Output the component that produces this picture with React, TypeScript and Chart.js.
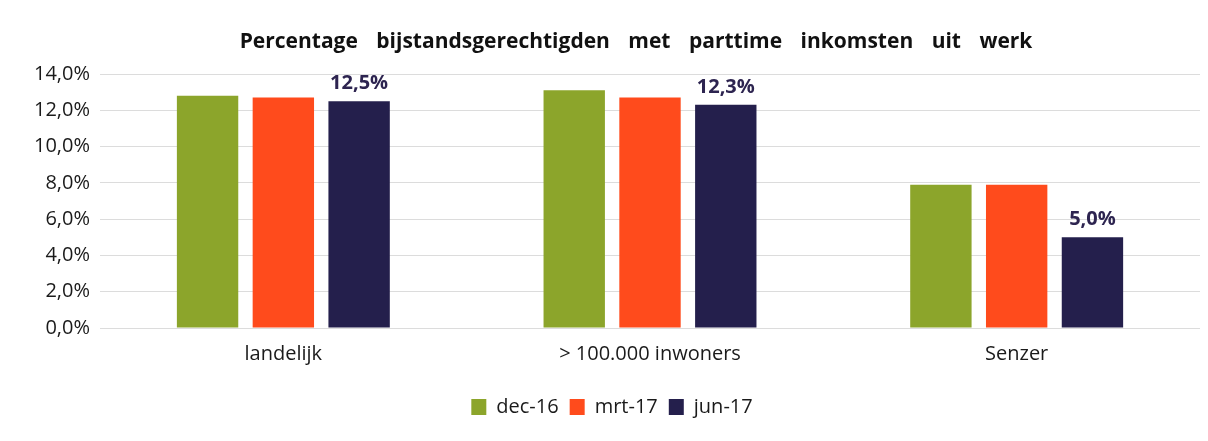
import React, { useEffect, useRef } from "react";
import { Chart, registerables } from "chart.js";

Chart.register(...registerables);

const categories = ["landelijk", "> 100.000 inwoners", "Senzer"];
const seriesNames = ["dec-16", "mrt-17", "jun-17"];
const dec16 = [12.8, 13.1, 7.9];
const mrt17 = [12.7, 12.7, 7.9];
const jun17 = [12.5, 12.3, 5.0];
const jun17Labels = ["12,5%", "12,3%", "5,0%"];
const yTicks = [0, 2, 4, 6, 8, 10, 12, 14];
const titleText = "Percentage bijstandsgerechtigden met parttime inkomsten uit werk";

const colors = ["#8ca52b", "#ff4b1c", "#241f4c"];
const FONT = "'Open Sans', sans-serif";

const labelPlugin = {
  id: "barLabels",
  afterDatasetsDraw(chart: any) {
    const ctx = chart.ctx;
    const meta = chart.getDatasetMeta(2);
    ctx.save();
    ctx.font = `bold 20px ${FONT}`;
    ctx.fillStyle = "#2d2450";
    ctx.textAlign = "center";
    ctx.textBaseline = "middle";
    meta.data.forEach((bar: any, i: number) => {
      ctx.fillText(jun17Labels[i], bar.x, bar.y - 18);
    });
    ctx.restore();
  },
};

const titlePlugin = {
  id: "customTitle",
  afterDraw(chart: any) {
    const ctx = chart.ctx;
    ctx.save();
    ctx.font = `bold 21px ${FONT}`;
    ctx.fillStyle = "#111";
    ctx.textAlign = "center";
    ctx.textBaseline = "middle";
    try {
      (ctx as any).wordSpacing = "13px";
    } catch (e) {}
    ctx.fillText(titleText, 636, 42);
    ctx.restore();
  },
};

export default function App() {
  const ref = useRef<HTMLCanvasElement>(null);
  useEffect(() => {
    if (!ref.current) return;
    const chart = new Chart(ref.current, {
      type: "bar",
      data: {
        labels: categories,
        datasets: [dec16, mrt17, jun17].map((d, i) => ({
          label: seriesNames[i],
          data: d,
          backgroundColor: colors[i],
          categoryPercentage: 0.62,
          barPercentage: 0.81,
        })),
      },
      options: {
        animation: false,
        responsive: false,
        layout: { padding: { left: 24, right: 8, top: 74, bottom: 14 } },
        scales: {
          x: {
            grid: { display: false },
            border: { display: false },
            afterFit: (scale: any) => {
              scale.height = 58;
            },
            ticks: { font: { size: 20, family: FONT }, color: "#1a1a1a", padding: 6 },
          },
          y: {
            min: 0,
            max: 14,
            afterBuildTicks: (axis: any) => {
              axis.ticks = yTicks.map((v) => ({ value: v }));
            },
            grid: { color: "#dcdcdc", drawTicks: false },
            border: { display: false },
            ticks: {
              font: { size: 20, family: FONT },
              color: "#1a1a1a",
              padding: 10,
              callback: (v: any) => Number(v).toFixed(1).replace(".", ",") + "%",
            },
          },
        },
        plugins: {
          title: { display: false },
          legend: {
            position: "bottom",
            labels: {
              boxWidth: 15,
              boxHeight: 16,
              padding: 11,
              font: { size: 20, family: FONT },
              color: "#1a1a1a",
            },
          },
          tooltip: { enabled: false },
        },
      },
      plugins: [labelPlugin, titlePlugin],
    });
    return () => chart.destroy();
  }, []);
  return (
    <div style={{ position: "fixed", left: 0, top: 0, width: 1208, height: 441, background: "#fff" }}>
      <canvas ref={ref} width={1208} height={441} />
    </div>
  );
}
